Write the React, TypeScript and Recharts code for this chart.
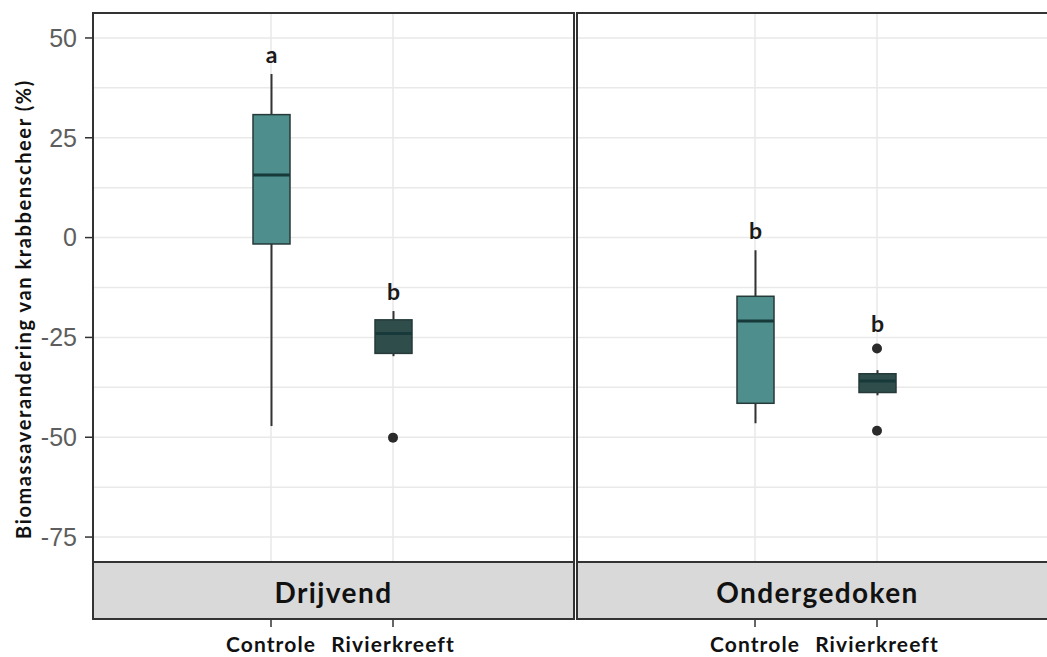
import { ComposedChart, Bar, Scatter, XAxis, YAxis, CartesianGrid, LabelList } from 'recharts';

const categories = ['Controle', 'Rivierkreeft'];
const facets = ['Drijvend', 'Ondergedoken'];

// box statistics per treatment, biomass change in %
const drijvendLow = [-47.2, -29.7];
const drijvendQ1 = [-1.6, -29.0];
const drijvendMedian = [15.7, -24.0];
const drijvendQ3 = [30.8, -20.6];
const drijvendHigh = [41.0, -18.4];
const drijvendOutliers = [[], [-50.1]];
const drijvendLetters = ['a', 'b'];

const ondergedokenLow = [-46.5, -39.5];
const ondergedokenQ1 = [-41.5, -38.8];
const ondergedokenMedian = [-20.9, -35.9];
const ondergedokenQ3 = [-14.7, -34.1];
const ondergedokenHigh = [-3.2, -33.2];
const ondergedokenOutliers = [[], [-27.8, -48.4]];
const ondergedokenLetters = ['b', 'b'];

const yTicks = [-75, -50, -25, 0, 25, 50];
const yGrid = [-75, -62.5, -50, -37.5, -25, -12.5, 0, 12.5, 25, 37.5, 50];
const yDomain = [-81.25, 56.25];

const boxFill: Record<string, string> = { Controle: '#4e8e8d', Rivierkreeft: '#2f4e4b' };

function buildRows(
  low: number[], q1: number[], median: number[], q3: number[], high: number[],
  outliers: number[][], letters: string[]
) {
  return categories.map((cat, i) => {
    const all = [low[i], high[i], ...outliers[i]];
    return {
      cat,
      low: low[i],
      q1: q1[i],
      median: median[i],
      q3: q3[i],
      high: high[i],
      out1: outliers[i][0] ?? null,
      out2: outliers[i][1] ?? null,
      topIsOutlier: Math.max(...outliers[i], -Infinity) > high[i],
      span: [Math.min(...all), Math.max(...all)],
      letter: letters[i],
    };
  });
}

const drijvendRows = buildRows(drijvendLow, drijvendQ1, drijvendMedian, drijvendQ3, drijvendHigh, drijvendOutliers, drijvendLetters);
const ondergedokenRows = buildRows(ondergedokenLow, ondergedokenQ1, ondergedokenMedian, ondergedokenQ3, ondergedokenHigh, ondergedokenOutliers, ondergedokenLetters);

const textFont = 'Lato, "Open Sans", sans-serif';

// the bar spans the full data range; box and whiskers are placed inside it
function BoxShape(props: any) {
  const { x, y, width, height, payload } = props;
  const [bottom, top] = payload.span;
  const k = height / (top - bottom);
  const py = (v: number) => y + (top - v) * k;
  const cx = x + width / 2;
  return (
    <g>
      <line x1={cx} x2={cx} y1={py(payload.high)} y2={py(payload.q3)} stroke="#333" strokeWidth={2} />
      <line x1={cx} x2={cx} y1={py(payload.q1)} y2={py(payload.low)} stroke="#333" strokeWidth={2} />
      <rect
        x={x}
        y={py(payload.q3)}
        width={width}
        height={py(payload.q1) - py(payload.q3)}
        fill={boxFill[payload.cat]}
        stroke="#263a39"
        strokeWidth={1.5}
      />
      <line x1={x} x2={x + width} y1={py(payload.median)} y2={py(payload.median)} stroke="#17393a" strokeWidth={3} />
    </g>
  );
}

const outlierShape = (key: 'out1' | 'out2') => (props: any) => {
  if (props.payload == null || props.payload[key] == null) return <g />;
  return <circle cx={props.cx} cy={props.cy} r={5} fill="#2b2b2b" />;
};

function makeLetter(rows: any[]) {
  return (props: any) => {
    const { x, y, width, value, index } = props;
    const lift = rows[index].topIsOutlier ? 17 : 11;
    return (
      <text x={x + width / 2} y={y - lift} textAnchor="middle" fontFamily={textFont} fontWeight={700} fontSize={23} fill="#1a1a1a">
        {value}
      </text>
    );
  };
}

function CategoryTick(props: any) {
  const { x, y, payload } = props;
  return (
    <g>
      <line x1={x} x2={x} y1={y + 57} y2={y + 65} stroke="#333" strokeWidth={1.5} />
      <text
        x={x}
        y={y + 90}
        textAnchor="middle"
        fontFamily={textFont}
        fontWeight={700}
        fontSize={21}
        letterSpacing={1.1}
        fill="#111"
      >
        {payload.value}
      </text>
    </g>
  );
}

function Panel({ rows, showY, width }: { rows: any[]; showY: boolean; width: number }) {
  return (
    <ComposedChart
      width={width}
      height={657}
      data={rows}
      margin={{ top: 13, right: 0, left: showY ? 33 : 0, bottom: 0 }}
    >
      <CartesianGrid stroke="#e9e9e9" strokeWidth={1.5} horizontalValues={yGrid} />
      <XAxis
        dataKey="cat"
        type="category"
        height={95}
        padding={{ left: 117, right: 120 }}
        axisLine={false}
        tickLine={false}
        tickSize={0}
        tickMargin={0}
        interval={0}
        tick={<CategoryTick />}
      />
      <YAxis
        type="number"
        domain={yDomain}
        allowDataOverflow
        ticks={yTicks}
        hide={!showY}
        width={60}
        axisLine={false}
        tickSize={8}
        tickLine={{ stroke: '#333', strokeWidth: 1.5 }}
        tickMargin={8}
        tick={{ fill: '#5e5e5e', fontSize: 25, fontFamily: '"Liberation Sans", Arial, sans-serif' }}
        label={
          showY
            ? {
                content: () => (
                  <text
                    transform="translate(31,309) rotate(-90)"
                    textAnchor="middle"
                    fontFamily={textFont}
                    fontWeight={700}
                    fontSize={20}
                    letterSpacing={1.6}
                    fill="#111"
                  >
                    Biomassaverandering van krabbenscheer (%)
                  </text>
                ),
              }
            : undefined
        }
      />
      <Bar dataKey="span" barSize={37} shape={<BoxShape />} isAnimationActive={false}>
        <LabelList dataKey="letter" content={makeLetter(rows)} />
      </Bar>
      <Scatter dataKey="out1" shape={outlierShape('out1')} isAnimationActive={false} />
      <Scatter dataKey="out2" shape={outlierShape('out2')} isAnimationActive={false} />
    </ComposedChart>
  );
}

const panelLeft = [93, 577];
const panelWidth = 481;

export default function App() {
  return (
    <div style={{ position: 'absolute', left: 0, top: 0, width: 1047, height: 657, overflow: 'hidden', background: '#fff' }}>
      <div style={{ position: 'absolute', left: 0, top: 0 }}>
        <Panel rows={drijvendRows} showY width={93 + panelWidth} />
      </div>
      <div style={{ position: 'absolute', left: 577, top: 0 }}>
        <Panel rows={ondergedokenRows} showY={false} width={panelWidth} />
      </div>
      <svg width={1047} height={657} style={{ position: 'absolute', left: 0, top: 0, pointerEvents: 'none' }}>
        {facets.map((name, i) => (
          <g key={name}>
            <rect x={panelLeft[i]} y={562} width={panelWidth} height={57} fill="#d9d9d9" stroke="#333" strokeWidth={2} />
            <rect x={panelLeft[i]} y={13} width={panelWidth} height={606} fill="none" stroke="#333" strokeWidth={2} />
            <text
              x={panelLeft[i] + panelWidth / 2}
              y={603}
              textAnchor="middle"
              fontFamily={textFont}
              fontWeight={700}
              fontSize={28}
              letterSpacing={1.4}
              fill="#111"
            >
              {name}
            </text>
          </g>
        ))}
      </svg>
    </div>
  );
}
